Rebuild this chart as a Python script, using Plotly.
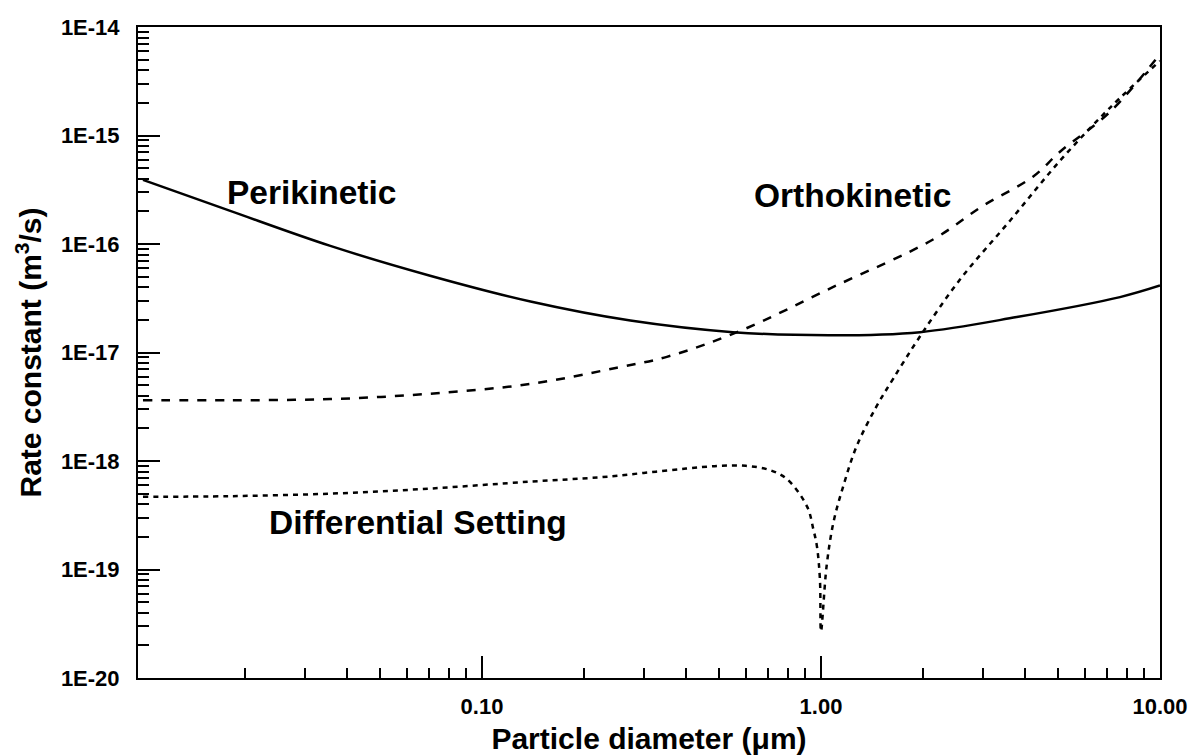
import plotly.graph_objects as go

# ---- data ----
d_peri = [0.01, 0.018, 0.0357, 0.0703, 0.139, 0.274, 0.55, 1.08, 1.96, 3.78, 7.62, 10.0]
k_peri = [3.9e-16, 2.03e-16, 9.6e-17, 5.1e-17, 2.95e-17, 1.97e-17, 1.54e-17, 1.44e-17,
          1.54e-17, 2.12e-17, 3.24e-17, 4.14e-17]

d_orth = [0.01, 0.018, 0.0357, 0.0703, 0.139, 0.25, 0.351, 0.577, 1.08, 2.14, 3.0,
          4.22, 5.07, 7.13, 10.0]
k_orth = [3.63e-18, 3.63e-18, 3.72e-18, 4.17e-18, 5.13e-18, 7.24e-18, 9.12e-18, 1.58e-17,
          3.98e-17, 1.10e-16, 2.24e-16, 4.17e-16, 7.08e-16, 1.66e-15, 5.62e-15]

d_diff = [0.01, 0.018, 0.0357, 0.0703, 0.139, 0.223, 0.3, 0.4, 0.5, 0.6, 0.7, 0.794,
          0.91, 0.949, 0.973, 0.993, 1.0, 1.039, 1.088, 1.164, 1.274, 1.459, 1.634,
          1.96, 2.57, 3.61, 5.07, 7.13, 10.0]
k_diff = [4.68e-19, 4.74e-19, 5.0e-19, 5.57e-19, 6.46e-19, 7.08e-19, 7.76e-19, 8.51e-19,
          9.02e-19, 9.02e-19, 8.32e-19, 6.8e-19, 3.8e-19, 2.36e-19, 1.63e-19, 8.0e-20,
          2.7e-20, 1.08e-19, 2.71e-19, 5.9e-19, 1.37e-18, 3.2e-18, 5.75e-18, 1.41e-17,
          4.7e-17, 1.64e-16, 5.85e-16, 1.81e-15, 4.87e-15]

x_tickvals = [0.1, 1.0, 10.0]
x_ticktext = ["0.10", "1.00", "10.00"]
y_tickvals = [1e-20, 1e-19, 1e-18, 1e-17, 1e-16, 1e-15, 1e-14]
y_ticktext = ["1E-20", "1E-19", "1E-18", "1E-17", "1E-16", "1E-15", "1E-14"]

labels = ["Perikinetic", "Orthokinetic", "Differential Setting"]

FONT = "Liberation Sans, Arial, Helvetica, sans-serif"

minor_x = [k * 10.0 ** e for e in (-2, -1, 0) for k in range(2, 10)]
minor_y = [k * 10.0 ** e for e in range(-20, -14) for k in range(2, 10)]

fig = go.Figure()
fig.add_trace(go.Scatter(x=d_peri, y=k_peri, mode="lines", name=labels[0],
                         line=dict(color="black", width=2.5, shape="spline")))
fig.add_trace(go.Scatter(x=d_orth, y=k_orth, mode="lines", name=labels[1],
                         line=dict(color="black", width=2.5, dash="9px,9px", shape="spline")))
fig.add_trace(go.Scatter(x=d_diff, y=k_diff, mode="lines", name=labels[2],
                         line=dict(color="black", width=2.5, dash="5px,5px", shape="spline")))

axis_common = dict(
    type="log", showgrid=False, zeroline=False, showline=True, linecolor="black",
    linewidth=2, mirror=True, ticks="inside", ticklen=22, tickwidth=1.5,
    tickcolor="black", tickfont=dict(family=FONT, size=22, color="black", weight="bold"),
)

fig.update_xaxes(
    **axis_common, range=[-2.0147, 1.0], tickmode="array",
    tickvals=x_tickvals, ticktext=x_ticktext, ticklabelstandoff=8,
    minor=dict(tickmode="array", tickvals=minor_x, ticks="inside", ticklen=10,
               tickwidth=1.5, tickcolor="black", showgrid=False),
    title=dict(text="Particle diameter (μm)", standoff=10,
               font=dict(family=FONT, size=30, color="black", weight="bold")),
)
fig.update_yaxes(
    **axis_common, range=[-20, -14], tickmode="array",
    tickvals=y_tickvals, ticktext=y_ticktext, ticklabelstandoff=12,
    minor=dict(tickmode="array", tickvals=minor_y, ticks="inside", ticklen=11,
               tickwidth=1.5, tickcolor="black", showgrid=False),
    title=dict(text="Rate constant (m<sup>3</sup>/s)", standoff=10,
               font=dict(family=FONT, size=30, color="black", weight="bold")),
)

ann_font = dict(family=FONT, size=33.5, color="black", weight="bold")
fig.add_annotation(text=labels[0], xref="paper", yref="paper", x=0.1693, y=0.7465,
                   showarrow=False, font=ann_font, xanchor="center", yanchor="middle")
fig.add_annotation(text=labels[1], xref="paper", yref="paper", x=0.6996, y=0.7419,
                   showarrow=False, font=ann_font, xanchor="center", yanchor="middle")
fig.add_annotation(text=labels[2], xref="paper", yref="paper", x=0.2735, y=0.2381,
                   showarrow=False, font=ann_font, xanchor="center", yanchor="middle")

fig.update_layout(
    width=1195, height=756, margin=dict(l=138, r=35, t=27, b=78, autoexpand=False),
    plot_bgcolor="white", paper_bgcolor="white", showlegend=False,
    font=dict(family=FONT, color="black"),
)

fig.write_html("out.html", config={"displayModeBar": False},
               post_script="document.body.style.margin='0px';")
